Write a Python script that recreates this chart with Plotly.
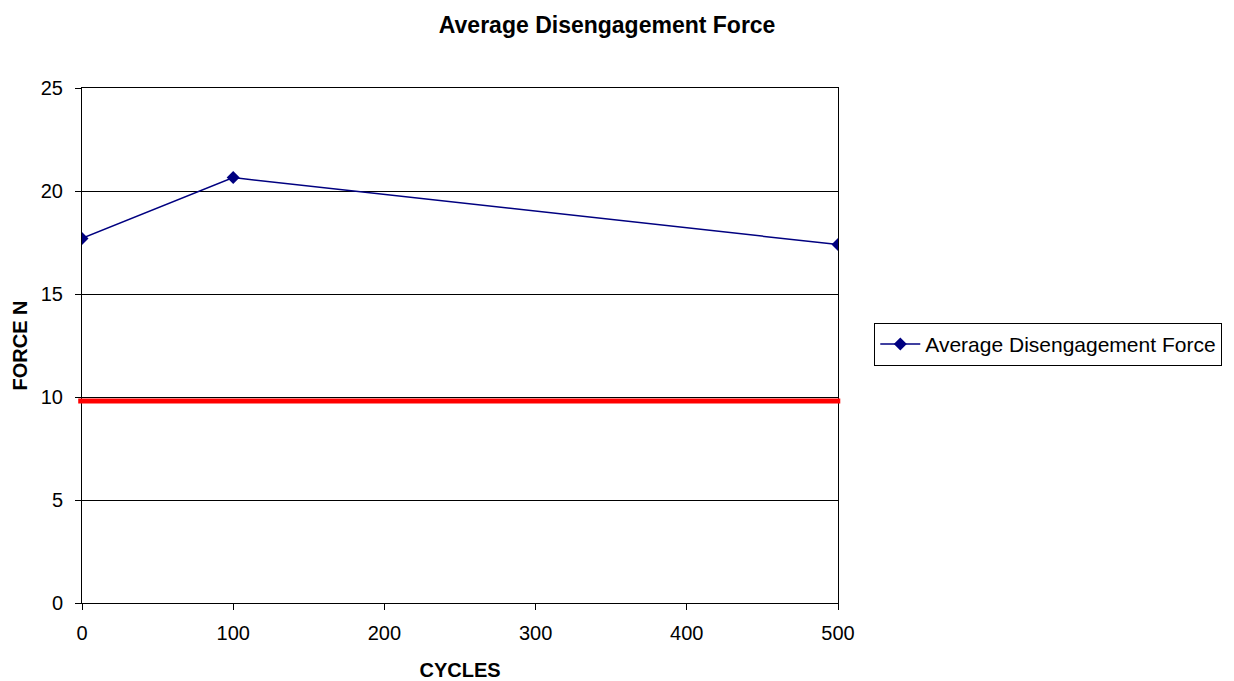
import plotly.graph_objects as go

# Measured disengagement force (N) versus number of cycles
cycles = [0, 100, 500]
avg_force = [17.7, 20.65, 17.4]
series_name = "Average Disengagement Force"

# Minimum acceptable force
limit_force = 9.8

y_ticks = [0, 5, 10, 15, 20, 25]
x_ticks = [0, 100, 200, 300, 400, 500]

navy = "#000080"
font_family = "Liberation Sans, Arial, sans-serif"

fig = go.Figure()

fig.add_trace(go.Scatter(
    x=cycles,
    y=avg_force,
    mode="lines+markers",
    name=series_name,
    line=dict(color=navy, width=1.5),
    marker=dict(symbol="diamond", size=10, color=navy),
))

# Red limit line across the plot area
fig.add_shape(
    type="line",
    xref="paper", yref="y",
    x0=-0.005, x1=1.003,
    y0=limit_force, y1=limit_force,
    line=dict(color="#ff0000", width=5),
    layer="above",
)

fig.update_layout(
    width=1234,
    height=681,
    margin=dict(l=82, r=396, t=88, b=78, autoexpand=False),
    paper_bgcolor="white",
    plot_bgcolor="white",
    font=dict(family=font_family, size=20, color="black"),
    title=dict(
        text="<b>Average Disengagement Force</b>",
        x=0.492, xanchor="center",
        y=0.963, yanchor="middle",
        font=dict(family=font_family, size=23, color="black"),
    ),
    showlegend=True,
    legend=dict(
        x=1.048, y=0.502,
        xanchor="left", yanchor="middle",
        bordercolor="black", borderwidth=1,
        bgcolor="white",
        font=dict(family=font_family, size=21, color="black"),
        itemwidth=40,
    ),
)

fig.update_xaxes(
    range=[0, 500],
    tickvals=x_ticks,
    ticks="outside", ticklen=6, tickcolor="black",
    ticklabelstandoff=6,
    automargin=False,
    showline=True, linecolor="black", linewidth=1, mirror=True,
    showgrid=False, zeroline=False,
    tickfont=dict(size=20),
    title=dict(text="<b>CYCLES</b>", font=dict(size=20), standoff=19),
)

fig.update_yaxes(
    range=[0, 25],
    tickvals=y_ticks,
    ticks="outside", ticklen=6, tickcolor="black",
    ticklabelstandoff=8,
    automargin=False,
    showline=True, linecolor="black", linewidth=1, mirror=True,
    showgrid=True, gridcolor="black", gridwidth=1,
    zeroline=False,
    tickfont=dict(size=20),
    title=dict(text="<b>FORCE N</b>", font=dict(size=20), standoff=7),
)

fig.write_html("out.html")
